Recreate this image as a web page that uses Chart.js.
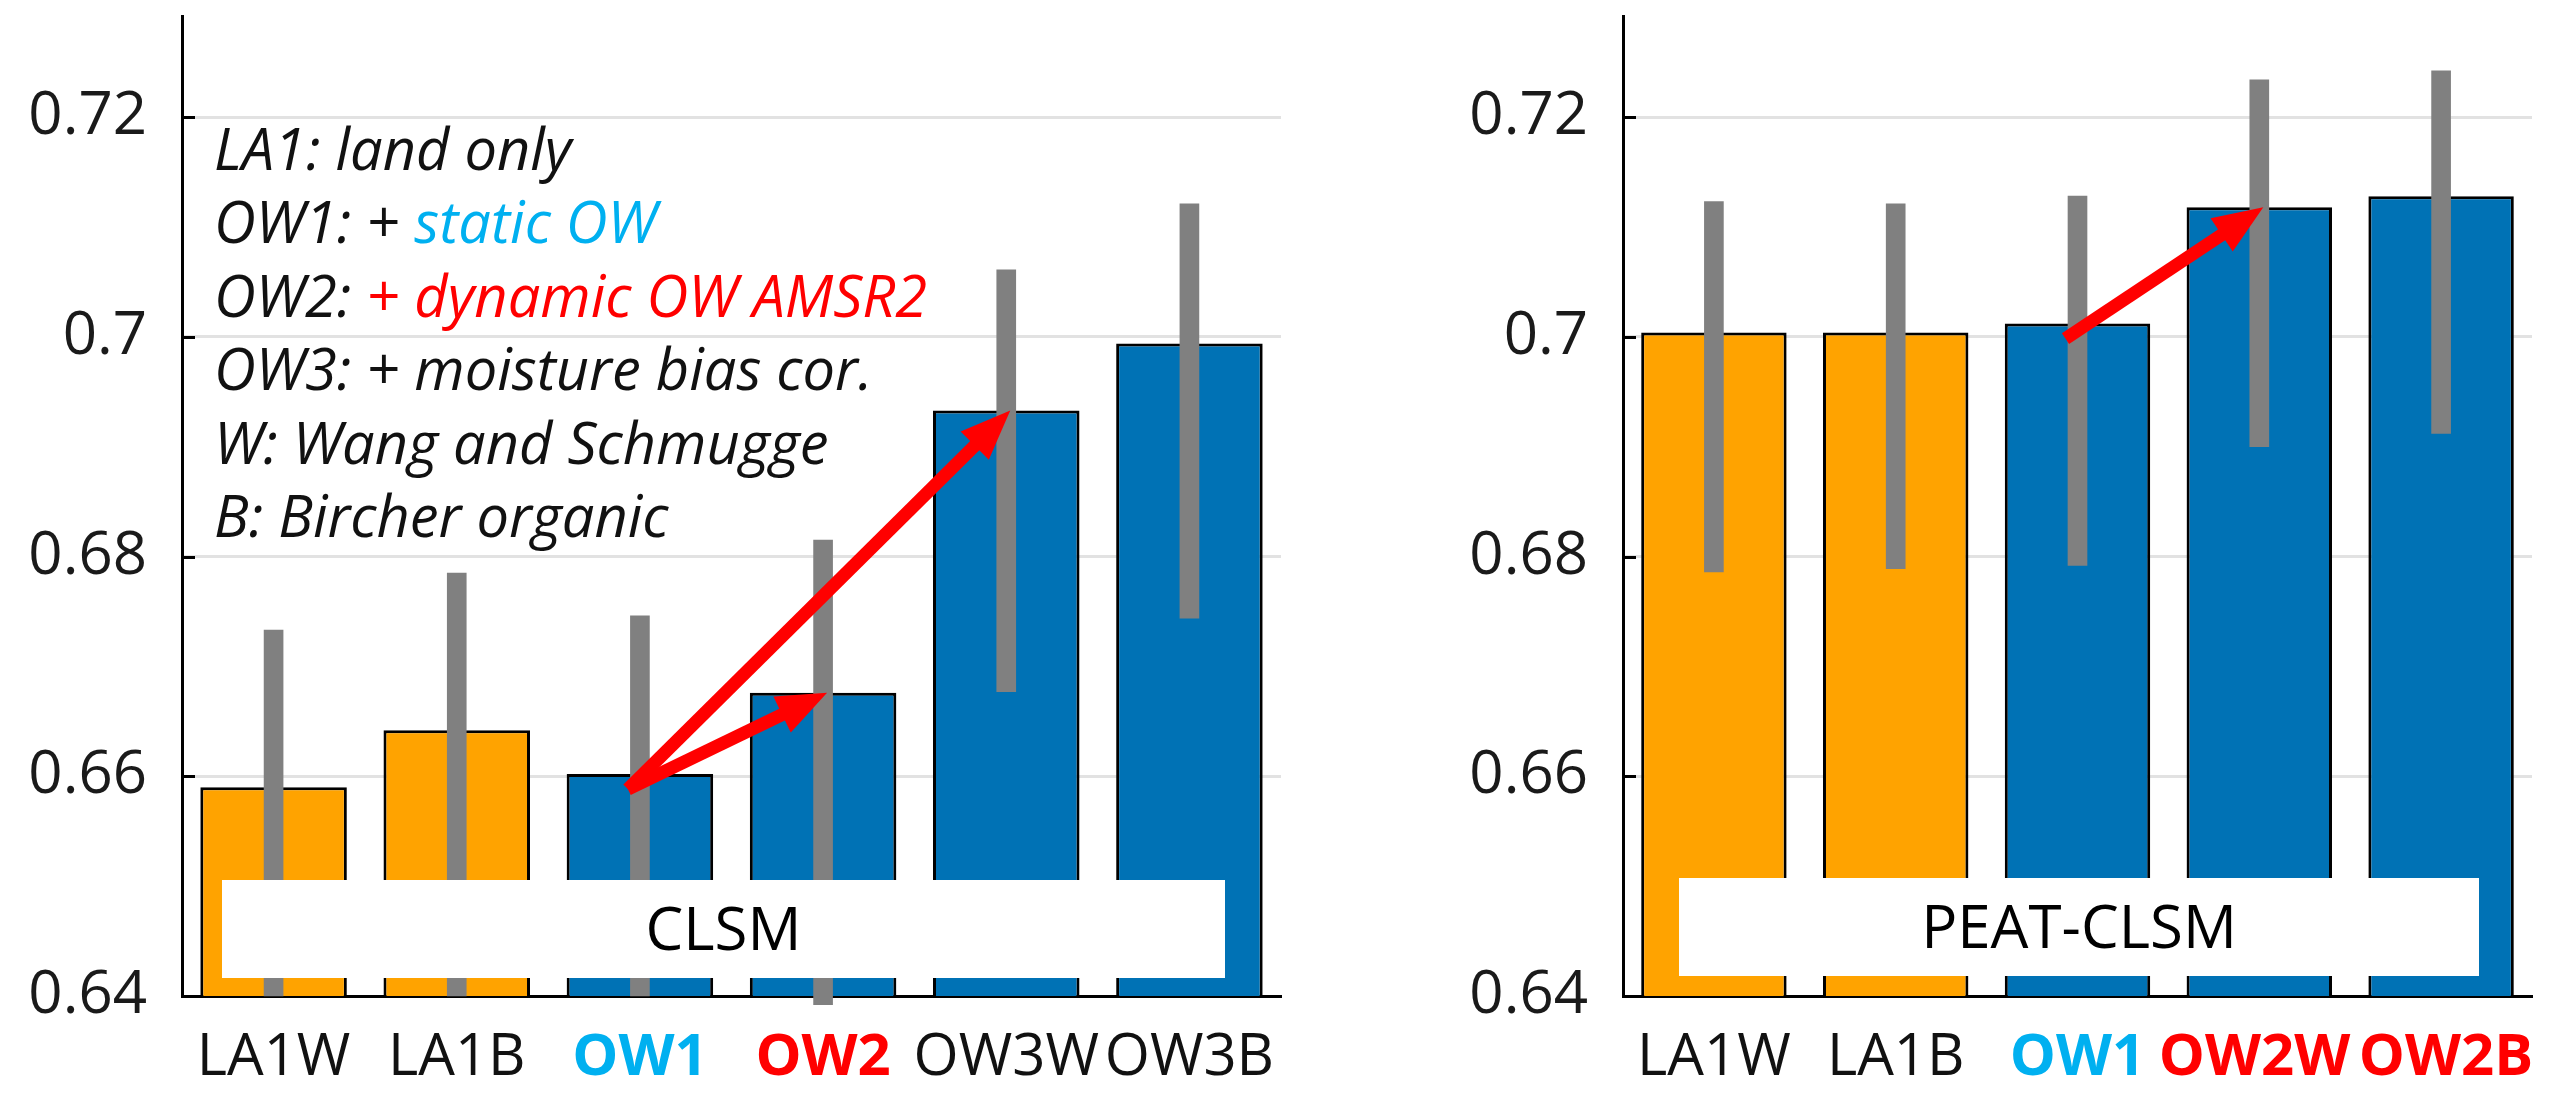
<!DOCTYPE html>
<html>
<head>
<meta charset="utf-8">
<script src="https://cdn.jsdelivr.net/npm/chart.js@4.4.1/dist/chart.umd.min.js"></script>
<style>
  html, body { margin: 0; padding: 0; background: #fff; overflow: hidden; }
  #wrap { position: relative; width: 2565px; height: 1101px; }
  .panel { position: absolute; top: 0; height: 1101px; }
  #pLeft  { left: 0;      width: 1300px; }
  #pRight { left: 1300px; width: 1265px; }
</style>
</head>
<body>
<div id="wrap">
  <div class="panel" id="pLeft"><canvas id="clsm" width="1300" height="1101"></canvas></div>
  <div class="panel" id="pRight"><canvas id="peat" width="1265" height="1101"></canvas></div>
</div>
<script>
// ---- datos ----
const clsmLabels = ['LA1W', 'LA1B', 'OW1', 'OW2', 'OW3W', 'OW3B'];
const clsmValues = [0.6590, 0.6642, 0.6602, 0.6676, 0.6933, 0.6994];
const clsmLow    = [0.6400, 0.6400, 0.6400, 0.6392, 0.6677, 0.6744];
const clsmHigh   = [0.6733, 0.6785, 0.6746, 0.6815, 0.7061, 0.7121];
const clsmGroup  = ['land', 'land', 'ow', 'ow', 'ow', 'ow'];
const clsmTone   = ['', '', 'static', 'dynamic', '', ''];
const clsmArrows = [[2, 4], [2, 3]];

const peatLabels = ['LA1W', 'LA1B', 'OW1', 'OW2W', 'OW2B'];
const peatValues = [0.7004, 0.7004, 0.7012, 0.7118, 0.7128];
const peatLow    = [0.6786, 0.6789, 0.6792, 0.6900, 0.6912];
const peatHigh   = [0.7123, 0.7121, 0.7128, 0.7234, 0.7242];
const peatGroup  = ['land', 'land', 'ow', 'ow', 'ow'];
const peatTone   = ['', '', 'static', 'dynamic', 'dynamic'];
const peatArrows = [[2, 3]];

const yMin = 0.64;
const yMax = 0.7292;
const yTicks      = [0.64, 0.66, 0.68, 0.70, 0.72];
const yTickLabels = ['0.64', '0.66', '0.68', '0.7', '0.72'];

const noteLines = [
  [['LA1: land only', '']],
  [['OW1: + ', ''], ['static OW', 'static']],
  [['OW2: ', ''], ['+ dynamic OW AMSR2', 'dynamic']],
  [['OW3: + moisture bias cor.', '']],
  [['W: Wang and Schmugge', '']],
  [['B: Bircher organic', '']]
];

// ---- estilos ----
const FAMILY = "'Open Sans', sans-serif";
const FILL   = { land: '#ffa300', ow: '#0072b5' };
const TONE   = { '': '#111111', static: '#00b0f0', dynamic: '#ff0000' };
const GRID   = '#e2e2e2';
const SPREAD = '#808080';
const ARROW  = '#ff0000';
const NUDGE  = '\u2009';   // separa etiquetas contiguas

function drawArrow(ctx, x0, y0, x1, y1) {
  const a = Math.atan2(y1 - y0, x1 - x0);
  const head = 50, half = 20;
  const bx = x1 - head * Math.cos(a), by = y1 - head * Math.sin(a);
  ctx.strokeStyle = ARROW;
  ctx.fillStyle = ARROW;
  ctx.lineWidth = 13;
  ctx.lineCap = 'butt';
  ctx.beginPath();
  ctx.moveTo(x0, y0);
  ctx.lineTo(bx + 4 * Math.cos(a), by + 4 * Math.sin(a));
  ctx.stroke();
  ctx.beginPath();
  ctx.moveTo(x1, y1);
  ctx.lineTo(bx + half * Math.sin(a), by - half * Math.cos(a));
  ctx.lineTo(bx - half * Math.sin(a), by + half * Math.cos(a));
  ctx.closePath();
  ctx.fill();
}

function makePanel(id, o) {
  const decor = {
    id: 'decor',
    afterDatasetsDraw(chart) {
      const { ctx, chartArea: area, scales: { x, y } } = chart;
      ctx.save();

      // marcas del eje y hacia dentro
      ctx.strokeStyle = '#000';
      ctx.lineWidth = 3;
      yTicks.forEach(v => {
        const py = Math.round(y.getPixelForValue(v)) + 0.5;
        ctx.beginPath();
        ctx.moveTo(area.left, py);
        ctx.lineTo(area.left + 13, py);
        ctx.stroke();
      });

      // flechas entre barras
      o.arrows.forEach(([from, to]) => {
        drawArrow(ctx,
          x.getPixelForValue(from) - 12, y.getPixelForValue(o.values[from]) + 15,
          x.getPixelForValue(to) + 4,    y.getPixelForValue(o.values[to]));
      });

      // caja con el nombre del modelo
      const bx = area.left + o.box.l, bw = area.width - o.box.l - o.box.r;
      const by = area.bottom - o.box.b - o.box.h;
      ctx.fillStyle = '#fff';
      ctx.fillRect(bx, by, bw, o.box.h);
      ctx.fillStyle = '#000';
      ctx.font = `60px ${FAMILY}`;
      ctx.textAlign = 'center';
      ctx.textBaseline = 'alphabetic';
      ctx.fillText(o.title, bx + bw / 2, by + o.box.h / 2 + 21);

      // leyenda en cursiva
      if (o.notes) {
        ctx.font = `italic 100px ${FAMILY}`;
        const ref = o.notes[2].map(s => s[0]).join('');
        const size = 100 * 713 / ctx.measureText(ref).width;
        ctx.font = `italic ${size.toFixed(1)}px ${FAMILY}`;
        ctx.textAlign = 'left';
        o.notes.forEach((line, i) => {
          let px = area.left + 32;
          const py = area.top + 154 + i * 73.4;
          line.forEach(([txt, tone]) => {
            ctx.fillStyle = TONE[tone];
            ctx.fillText(txt, px, py);
            px += ctx.measureText(txt).width;
          });
        });
      }
      ctx.restore();
    }
  };

  return new Chart(document.getElementById(id), {
    type: 'bar',
    data: {
      labels: o.labels,
      datasets: [
        {
          label: 'rango',
          data: o.low.map((v, i) => [v, o.high[i]]),
          backgroundColor: SPREAD,
          borderWidth: 0,
          barThickness: 19,
          grouped: false,
          order: 0,
          clip: false
        },
        {
          label: 'media',
          data: o.values,
          backgroundColor: o.group.map(g => FILL[g]),
          borderColor: '#000',
          borderWidth: 3,
          borderSkipped: false,
          grouped: false,
          categoryPercentage: 1,
          barPercentage: 0.8,
          order: 1
        }
      ]
    },
    options: {
      responsive: false,
      devicePixelRatio: 1,
      animation: false,
      layout: { padding: { left: 0, top: 16, right: o.padRight, bottom: 0 } },
      plugins: { legend: { display: false }, tooltip: { enabled: false } },
      scales: {
        x: {
          grid: { display: false, drawTicks: false },
          border: { display: true, color: '#000', width: 3 },
          ticks: {
            autoSkip: false, maxRotation: 0, minRotation: 0, padding: 28,
            color: c => TONE[o.tone[c.index]],
            font: c => ({ family: FAMILY, size: 58, weight: o.tone[c.index] ? 'bold' : 'normal' }),
            callback: (v, i) => {
              const s = (o.nudge || [])[i] || 0;
              const t = o.labels[i];
              return s < 0 ? t + NUDGE : s > 0 ? NUDGE + t : t;
            }
          },
          afterFit: a => { a.height = 105; a.paddingLeft = 0; a.paddingRight = 0; }
        },
        y: {
          min: yMin, max: yMax,
          afterBuildTicks: a => { a.ticks = yTicks.map(v => ({ value: v })); },
          grid: {
            drawTicks: false, lineWidth: 3,
            color: c => (c.tick && Math.abs(c.tick.value - yMin) < 1e-9) ? 'rgba(0,0,0,0)' : GRID
          },
          border: { display: true, color: '#000', width: 3 },
          ticks: {
            padding: 35, color: '#1a1a1a',
            font: { family: FAMILY, size: 60 },
            callback: (v, i) => yTickLabels[i]
          },
          afterFit: a => { a.width = o.axisWidth; a.paddingTop = 0; a.paddingBottom = 0; }
        }
      }
    },
    plugins: [decor]
  });
}

makePanel('clsm', {
  labels: clsmLabels, values: clsmValues, low: clsmLow, high: clsmHigh,
  group: clsmGroup, tone: clsmTone, arrows: clsmArrows,
  title: 'CLSM', notes: noteLines,
  axisWidth: 182, padRight: 19,
  box: { l: 40, r: 56, b: 18, h: 98 }
});

makePanel('peat', {
  labels: peatLabels, values: peatValues, low: peatLow, high: peatHigh,
  group: peatGroup, tone: peatTone, arrows: peatArrows,
  title: 'PEAT-CLSM', notes: null,
  axisWidth: 323, padRight: 33,
  nudge: [0, 0, 0, -1, 1],
  box: { l: 56, r: 53, b: 20, h: 98 }
});
</script>
</body>
</html>
